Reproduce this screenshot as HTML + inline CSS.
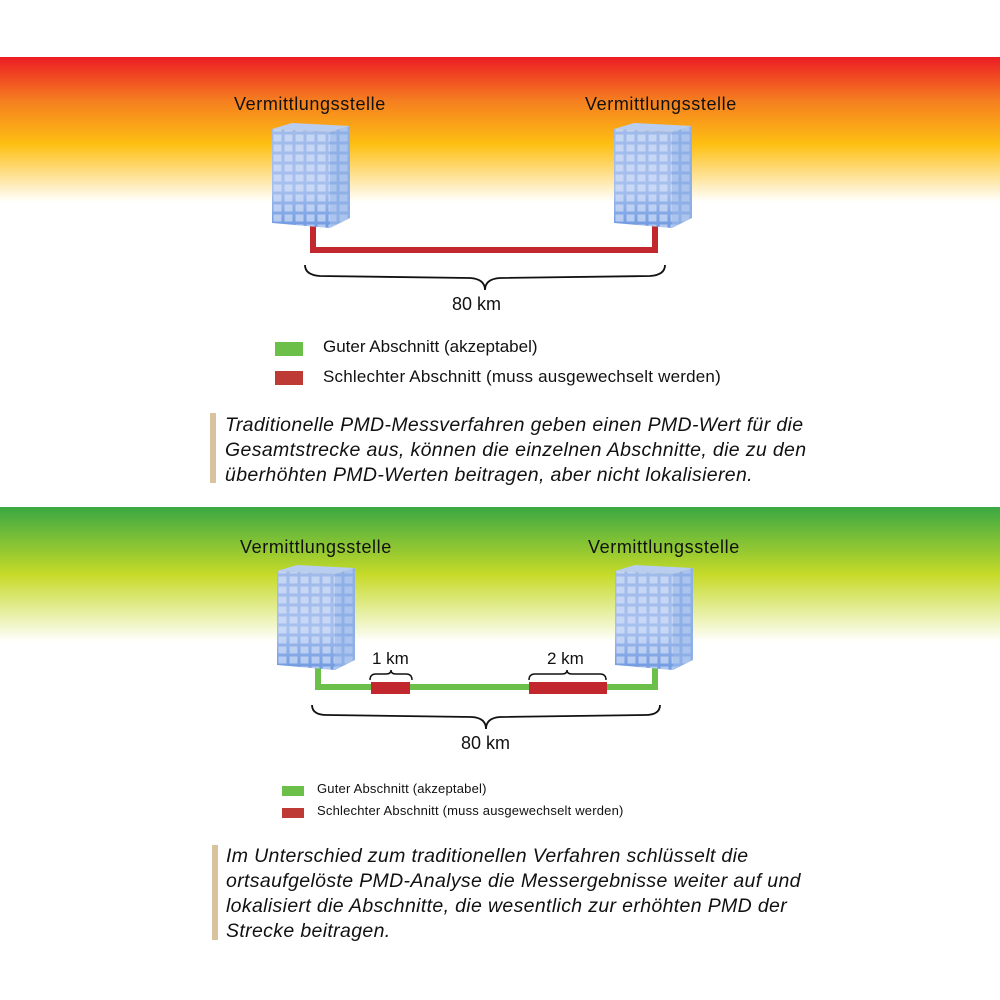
<!DOCTYPE html>
<html><head><meta charset="utf-8"><style>
body{margin:0;width:1000px;height:1000px;background:#fff;font-family:"Liberation Sans",sans-serif;position:relative;overflow:hidden}
.t{position:absolute;white-space:nowrap;color:#111}
</style></head><body>
<svg width="1000" height="1000" style="position:absolute;left:0;top:0">
<defs>
<linearGradient id="g1" x1="0" y1="0" x2="0" y2="1">
<stop offset="0" stop-color="#ec1c24"/><stop offset="0.3" stop-color="#f57e20"/><stop offset="0.6" stop-color="#fdbf12"/><stop offset="1" stop-color="#ffffff"/></linearGradient>
<linearGradient id="g2" x1="0" y1="0" x2="0" y2="1">
<stop offset="0" stop-color="#3aa843"/><stop offset="0.5" stop-color="#c6da28"/><stop offset="1" stop-color="#ffffff"/></linearGradient>
<linearGradient id="bf" x1="0" y1="0" x2="0" y2="1"><stop offset="0" stop-color="#9fb9ea"/><stop offset="0.6" stop-color="#a7c0ee"/><stop offset="1" stop-color="#6f99e0"/></linearGradient>
<pattern id="win" x="0" y="0" width="11" height="10" patternUnits="userSpaceOnUse"><rect x="1.5" y="1.5" width="8" height="7" fill="#dde8fa" opacity="0.6"/></pattern>
<g id="bld">
<polygon points="0,6 20,0 78,3 58,9" fill="#b8cdf0"/>
<polygon points="0,6 58,9 58,105 0,100" fill="url(#bf)"/>
<polygon points="0,6 58,9 58,105 0,100" fill="url(#win)"/>
<polygon points="58,9 78,3 78,95 58,105" fill="#8fb0e6"/>
<polygon points="58,9 78,3 78,95 58,105" fill="url(#win)" opacity="0.6"/>
</g>
</defs>
<rect x="0" y="57" width="1000" height="145" fill="url(#g1)"/>
<rect x="0" y="507" width="1000" height="135" fill="url(#g2)"/>
<polyline points="313,225 313,250 655,250 655,225" fill="none" stroke="#c1272d" stroke-width="6"/>
<use href="#bld" x="272" y="123"/>
<use href="#bld" x="614" y="123"/>
<path d="M305,265 Q305,275 320,276 L470,278 Q485,279 485,290 Q485,279 500,278 L650,276 Q665,275 665,265" fill="none" stroke="#111" stroke-width="1.8"/>
<rect x="275" y="342" width="28" height="14" fill="#6cc04a"/>
<rect x="275" y="371" width="28" height="14" fill="#be3a34"/>
<rect x="210" y="413" width="6" height="70" fill="#d7c39d"/>
<polyline points="318,668 318,687 655,687 655,668" fill="none" stroke="#6cc04a" stroke-width="6"/>
<rect x="371" y="682" width="39" height="12" fill="#c1272d"/>
<rect x="529" y="682" width="78" height="12" fill="#c1272d"/>
<use href="#bld" x="277" y="565"/>
<use href="#bld" x="615" y="565"/>
<path d="M370,680 Q370,674 376,674 L386,674 Q391,674 391,670 Q391,674 396,674 L406,674 Q412,674 412,680" fill="none" stroke="#111" stroke-width="1.5"/>
<path d="M529,680 Q529,674 535,674 L562,674 Q567,674 567,670 Q567,674 572,674 L600,674 Q606,674 606,680" fill="none" stroke="#111" stroke-width="1.5"/>
<path d="M312,705 Q312,715 327,715 L472,717 Q486,718 486,729 Q486,718 500,717 L645,715 Q660,715 660,705" fill="none" stroke="#111" stroke-width="1.8"/>
<rect x="282" y="786" width="22" height="10" fill="#6cc04a"/>
<rect x="282" y="808" width="22" height="10" fill="#be3a34"/>
<rect x="212" y="845" width="6" height="95" fill="#d7c39d"/>
</svg>
<div class="t" style="left:234px;top:94px;font-size:18px;letter-spacing:0.6px">Vermittlungsstelle</div>
<div class="t" style="left:585px;top:94px;font-size:18px;letter-spacing:0.6px">Vermittlungsstelle</div>
<div class="t" style="left:452px;top:294px;font-size:18px">80 km</div>
<div class="t" style="left:323px;top:337px;font-size:17px">Guter Abschnitt (akzeptabel)</div>
<div class="t" style="left:323px;top:367px;font-size:17px;letter-spacing:0.2px">Schlechter Abschnitt (muss ausgewechselt werden)</div>
<div class="t" style="left:225px;top:413px;font-size:19.5px;font-style:italic;line-height:25px;letter-spacing:0.35px">Traditionelle PMD-Messverfahren geben einen PMD-Wert für die<br>Gesamtstrecke aus, können die einzelnen Abschnitte, die zu den<br>überhöhten PMD-Werten beitragen, aber nicht lokalisieren.</div>
<div class="t" style="left:240px;top:537px;font-size:18px;letter-spacing:0.6px">Vermittlungsstelle</div>
<div class="t" style="left:588px;top:537px;font-size:18px;letter-spacing:0.6px">Vermittlungsstelle</div>
<div class="t" style="left:372px;top:649px;font-size:17px">1 km</div>
<div class="t" style="left:547px;top:649px;font-size:17px">2 km</div>
<div class="t" style="left:461px;top:733px;font-size:18px">80 km</div>
<div class="t" style="left:317px;top:781px;font-size:13px;letter-spacing:0.2px">Guter Abschnitt (akzeptabel)</div>
<div class="t" style="left:317px;top:803px;font-size:13px;letter-spacing:0.2px">Schlechter Abschnitt (muss ausgewechselt werden)</div>
<div class="t" style="left:226px;top:844px;font-size:19.5px;font-style:italic;line-height:25px;letter-spacing:0.35px">Im Unterschied zum traditionellen Verfahren schlüsselt die<br>ortsaufgelöste PMD-Analyse die Messergebnisse weiter auf und<br>lokalisiert die Abschnitte, die wesentlich zur erhöhten PMD der<br>Strecke beitragen.</div>
</body></html>
